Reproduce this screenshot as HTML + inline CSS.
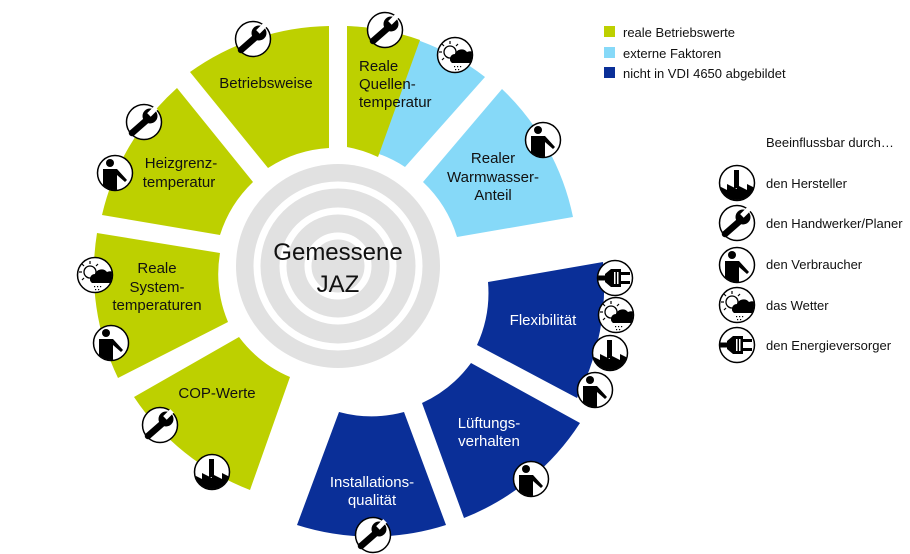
<!DOCTYPE html>
<html><head><meta charset="utf-8"><style>
html,body{margin:0;padding:0;background:#fff;}
svg{display:block;}
text{font-family:"Liberation Sans",sans-serif;}
</style></head><body>
<svg width="910" height="554" viewBox="0 0 910 554" xmlns="http://www.w3.org/2000/svg">
<defs>
<clipPath id="cc"><circle cx="0" cy="0" r="17"/></clipPath>
<symbol id="wr" viewBox="-20 -20 40 40" overflow="visible">
<circle r="17.5" fill="#fff" stroke="#000" stroke-width="1.5"/>
<line x1="-12" y1="11" x2="4" y2="-3" stroke="#000" stroke-width="6.5" stroke-linecap="round"/>
<circle cx="6" cy="-6" r="7.5" fill="#000"/>
<rect x="6" y="-10" width="10" height="5" fill="#fff" transform="rotate(-45 6 -6)"/>
</symbol>
<symbol id="pe" viewBox="-20 -20 40 40" overflow="visible">
<circle r="17.5" fill="#fff" stroke="#000" stroke-width="1.5"/>
<g clip-path="url(#cc)">
<circle cx="-5" cy="-10" r="4" fill="#000"/>
<path d="M-12,-4 H2 L12,7 L10,9 L2,2 V20 H-12 Z" fill="#000"/>
</g>
</symbol>
<symbol id="fa" viewBox="-20 -20 40 40" overflow="visible">
<circle r="17.5" fill="#fff" stroke="#000" stroke-width="1.5"/>
<g clip-path="url(#cc)">
<rect x="-3" y="-13" width="5" height="18" fill="#000"/>
<path d="M-20,20 V2 L-10,7 V1 L0,6 V2 L10,7 V1 L20,6 V20 Z" fill="#000"/>
</g>
</symbol>
<symbol id="we" viewBox="-20 -20 40 40" overflow="visible">
<circle r="17.5" fill="#fff" stroke="#000" stroke-width="1.5"/>
<circle cx="-5" cy="-3" r="6" fill="none" stroke="#000" stroke-width="1.3"/>
<g stroke="#000" stroke-width="1.2">
<line x1="-5" y1="-14" x2="-5" y2="-11"/><line x1="-16" y1="-3" x2="-13" y2="-3"/>
<line x1="-13" y1="-11" x2="-11" y2="-9"/><line x1="3" y1="-11" x2="1" y2="-9"/>
<line x1="-13" y1="5" x2="-11" y2="3"/></g>
<g clip-path="url(#cc)">
<path d="M-3,8 A5,5 0 0 1 0,-1 A7,7 0 0 1 12,-3 A6,6 0 0 1 18,8 Z" fill="#000"/>
</g>
<g fill="#000"><rect x="-1" y="11" width="1.2" height="1.2"/><rect x="2" y="11" width="1.2" height="1.2"/><rect x="5" y="11" width="1.2" height="1.2"/><rect x="0" y="14" width="1.2" height="1.2"/><rect x="3" y="14" width="1.2" height="1.2"/></g>
</symbol>
<symbol id="pl" viewBox="-20 -20 40 40" overflow="visible">
<circle r="17.5" fill="#fff" stroke="#000" stroke-width="1.5"/>
<g clip-path="url(#cc)">
<rect x="-20" y="-2.5" width="12" height="5" fill="#000"/>
<path d="M-10,-4 L-4,-9 H6 V9 H-4 L-10,4 Z" fill="#000"/>
<rect x="6" y="-6" width="9" height="3" fill="#000"/>
<rect x="6" y="3" width="9" height="3" fill="#000"/>
<rect x="-1" y="-6" width="1.5" height="12" fill="#fff"/>
<rect x="2" y="-6" width="1.5" height="12" fill="#fff"/>
</g>
</symbol>
</defs>

<!-- center spiral -->
<circle cx="338" cy="266" r="102" fill="#e1e1e1"/>
<g fill="none" stroke="#fff" stroke-width="7">
<circle cx="338" cy="266" r="81"/>
<circle cx="338" cy="266" r="55"/>
<circle cx="338" cy="266" r="30"/>
</g>

<!-- segments -->
<g>
<path d="M347,26 A245,245 0 0 1 485,77 L405,167 A125,125 0 0 0 347,147 Z" fill="#86d9f8"/>
<path d="M347,26 A245,245 0 0 1 420,40 L378,157 A125,125 0 0 0 347,147 Z" fill="#bdd000"/>
<path d="M502,89 A245,245 0 0 1 573,217 L457,237 A125,125 0 0 0 423,182 Z" fill="#86d9f8"/>
<path d="M603,262 A245,245 0 0 1 577,398 L477,345 A125,125 0 0 0 488,282 Z" fill="#0a2f98"/>
<path d="M580,423 A245,245 0 0 1 464,518 L422,403 A125,125 0 0 0 471,363 Z" fill="#0a2f98"/>
<path d="M446,525 A245,245 0 0 1 297,525 L339,412 A125,125 0 0 0 404,412 Z" fill="#0a2f98"/>
<path d="M250,490 A245,245 0 0 1 134,397 L239,337 A125,125 0 0 0 290,377 Z" fill="#bdd000"/>
<path d="M118,378 A245,245 0 0 1 97,233 L220,253 A125,125 0 0 0 228,322 Z" fill="#bdd000"/>
<path d="M102,215 A245,245 0 0 1 177,88 L253,182 A125,125 0 0 0 220,235 Z" fill="#bdd000"/>
<path d="M190,72 A245,245 0 0 1 329,26 L329,148 A125,125 0 0 0 268,168 Z" fill="#bdd000"/>
</g>

<!-- labels -->
<g font-size="15" fill="#111" text-anchor="middle">
<text x="266" y="88">Betriebsweise</text>
<text x="359" y="71" text-anchor="start">Reale</text>
<text x="359" y="89" text-anchor="start">Quellen-</text>
<text x="359" y="107" text-anchor="start">temperatur</text>
<text x="493" y="163">Realer</text>
<text x="493" y="182">Warmwasser-</text>
<text x="493" y="200">Anteil</text>
<text x="181" y="168">Heizgrenz-</text>
<text x="179" y="187">temperatur</text>
<text x="157" y="273">Reale</text>
<text x="157" y="292">System-</text>
<text x="157" y="310">temperaturen</text>
<text x="217" y="398">COP-Werte</text>
<text x="543" y="325" fill="#fff">Flexibilität</text>
<text x="489" y="428" fill="#fff">Lüftungs-</text>
<text x="489" y="446" fill="#fff">verhalten</text>
<text x="372" y="487" fill="#fff">Installations-</text>
<text x="372" y="505" fill="#fff">qualität</text>
</g>
<g font-size="24" fill="#111" text-anchor="middle">
<text x="338" y="260">Gemessene</text>
<text x="338" y="292">JAZ</text>
</g>

<!-- icons -->
<g>
<use href="#wr" x="233" y="19" width="40" height="40"/>
<use href="#wr" x="365" y="10" width="40" height="40"/>
<use href="#we" x="435" y="35" width="40" height="40"/>
<use href="#pe" x="523" y="120" width="40" height="40"/>
<use href="#wr" x="124" y="102" width="40" height="40"/>
<use href="#pe" x="95" y="153" width="40" height="40"/>
<use href="#we" x="75" y="255" width="40" height="40"/>
<use href="#pe" x="91" y="323" width="40" height="40"/>
<use href="#wr" x="140" y="405" width="40" height="40"/>
<use href="#fa" x="192" y="452" width="40" height="40"/>
<use href="#wr" x="353" y="515" width="40" height="40"/>
<use href="#pe" x="511" y="459" width="40" height="40"/>
<use href="#pl" x="595" y="258" width="40" height="40"/>
<use href="#we" x="596" y="295" width="40" height="40"/>
<use href="#fa" x="590" y="333" width="40" height="40"/>
<use href="#pe" x="575" y="370" width="40" height="40"/>
</g>

<!-- legend -->
<rect x="604" y="26" width="11" height="11" fill="#bdd000"/>
<rect x="604" y="47" width="11" height="11" fill="#86d9f8"/>
<rect x="604" y="67" width="11" height="11" fill="#0a2f98"/>
<g font-size="13" fill="#111">
<text x="623" y="37">reale Betriebswerte</text>
<text x="623" y="58">externe Faktoren</text>
<text x="623" y="78">nicht in VDI 4650 abgebildet</text>
<text x="766" y="147">Beeinflussbar durch…</text>
<text x="766" y="188">den Hersteller</text>
<text x="766" y="228">den Handwerker/Planer</text>
<text x="766" y="269">den Verbraucher</text>
<text x="766" y="310">das Wetter</text>
<text x="766" y="350">den Energieversorger</text>
</g>
<use href="#fa" x="717" y="163" width="40" height="40"/>
<use href="#wr" x="717" y="203" width="40" height="40"/>
<use href="#pe" x="717" y="245" width="40" height="40"/>
<use href="#we" x="717" y="285" width="40" height="40"/>
<use href="#pl" x="717" y="325" width="40" height="40"/>
</svg>
</body></html>
